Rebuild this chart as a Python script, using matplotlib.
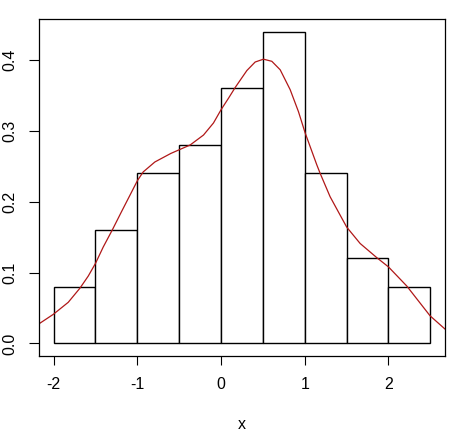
import numpy as np
import matplotlib.pyplot as plt

plt.rcParams['font.family'] = ['Liberation Sans', 'DejaVu Sans']
plt.rcParams['font.size'] = 11.5

# histogram (density scale)
bin_edges = [-2.0, -1.5, -1.0, -0.5, 0.0, 0.5, 1.0, 1.5, 2.0, 2.5]
densities = [0.08, 0.16, 0.24, 0.28, 0.36, 0.44, 0.24, 0.12, 0.08]

# density curve
curve_x = [-2.183, -2.004, -1.825, -1.685, -1.586, -1.499, -1.407, -1.299, -1.188,
           -1.088, -0.997, -0.929, -0.790, -0.600, -0.368, -0.209, -0.090, 0.002,
           0.090, 0.169, 0.309, 0.408, 0.507, 0.607, 0.707, 0.826, 0.925, 1.005,
           1.144, 1.184, 1.303, 1.423, 1.502, 1.662, 1.861, 2.000, 2.219, 2.497, 2.688]
curve_y = [0.027, 0.041, 0.058, 0.078, 0.095, 0.113, 0.136, 0.160, 0.186,
           0.209, 0.230, 0.242, 0.256, 0.268, 0.280, 0.294, 0.311, 0.330,
           0.346, 0.361, 0.385, 0.397, 0.401, 0.398, 0.386, 0.358, 0.327, 0.297,
           0.252, 0.240, 0.207, 0.181, 0.164, 0.141, 0.121, 0.108, 0.081, 0.039, 0.019]

fig = plt.figure(figsize=(4.65, 4.33), dpi=100)
ax = fig.add_axes([0.0828, 0.178, 0.875, 0.778])

widths = np.diff(bin_edges)
ax.bar(bin_edges[:-1], densities, width=widths, align='edge',
       facecolor='white', edgecolor='black', linewidth=1.0)
ax.plot(curve_x, curve_y, color='#b01818', linewidth=0.9)

ax.set_xlim(-2.18, 2.68)
ax.set_ylim(-0.0176, 0.4576)
ax.set_xticks([-2, -1, 0, 1, 2])
ax.set_xticklabels(['-2', '-1', '0', '1', '2'])
ax.set_yticks([0.0, 0.1, 0.2, 0.3, 0.4])
ax.set_yticklabels(['0.0', '0.1', '0.2', '0.3', '0.4'], rotation=90, va='center')
ax.tick_params(axis='x', length=6.5, width=0.8, pad=9)
ax.tick_params(axis='y', length=7, width=0.8, pad=8)
for s in ax.spines.values():
    s.set_linewidth(0.9)
ax.set_xlabel('x', labelpad=18)

fig.savefig('out.png', dpi=100)
